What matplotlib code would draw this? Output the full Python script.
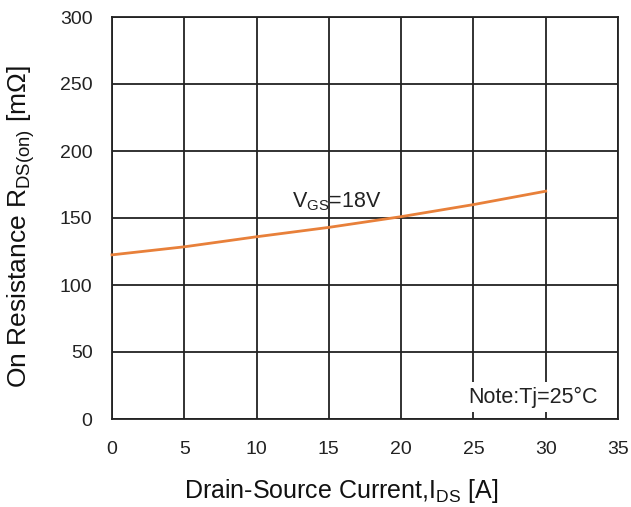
import matplotlib
matplotlib.use("Agg")
import matplotlib.pyplot as plt

plt.rcParams['font.family'] = ['Liberation Sans', 'DejaVu Sans']
plt.rcParams['mathtext.fontset'] = 'custom'
plt.rcParams['mathtext.rm'] = 'Liberation Sans'

# Drain-source current [A] and on-resistance [mOhm] at VGS = 18 V
current = [0, 5, 10, 15, 20, 25, 30]
resistance = [122.5, 128.5, 136, 143, 151, 160, 170]

x_ticks = [0, 5, 10, 15, 20, 25, 30, 35]
y_ticks = [0, 50, 100, 150, 200, 250, 300]

W, H = 631, 507
fig = plt.figure(figsize=(W / 100, H / 100), dpi=100)
ax = fig.add_axes([112 / W, 1 - 419 / H, (618 - 112) / W, (419 - 17) / H])

grid_col = '#222222'
ax.set_xlim(0, 35)
ax.set_ylim(0, 300)
ax.set_xticks(x_ticks)
ax.set_yticks(y_ticks)
ax.grid(True, color=grid_col, linewidth=1.3)
ax.set_axisbelow(True)
for s in ax.spines.values():
    s.set_color(grid_col)
    s.set_linewidth(1.3)
ax.tick_params(length=0, labelsize=14, labelcolor='#222222')
ax.tick_params(axis='x', pad=16)
ax.tick_params(axis='y', pad=14)

ax.plot(current, resistance, color='#E8803A', linewidth=2.0, zorder=3, clip_on=False)

ax.text(12.45, 158.2, r'V$_\mathregular{GS}$=18V', fontsize=15.5, color='#222222',
        va='baseline', zorder=4)
ax.text(33.6, 16.4, 'Note:Tj=25°C', fontsize=15.5, color='#222222', ha='right', va='center',
        zorder=4, bbox=dict(facecolor='white', edgecolor='none', pad=3))

fig.text(341 / W, 1 - 498 / H, r'Drain-Source Current,I$_\mathregular{DS}$ [A]',
         fontsize=18, color='#111111', ha='center', va='baseline')
fig.text(21 / W, 1 - 227 / H, r'On Resistance R$_\mathregular{DS(on)}$ [m$\Omega$]',
         fontsize=19, color='#111111', ha='center', va='center', rotation=90)

fig.savefig('out.png', dpi=100)
